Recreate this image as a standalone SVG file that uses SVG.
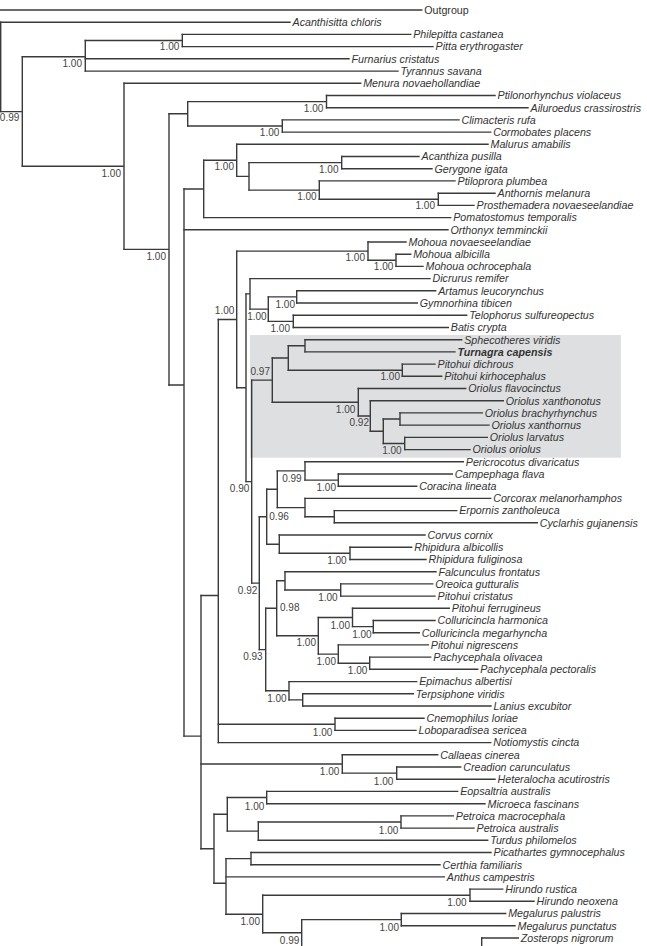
<svg xmlns="http://www.w3.org/2000/svg" width="647" height="946" viewBox="0 0 647 946">
<style>
.br{fill:none;stroke:#3a3a3a;stroke-width:1.4;stroke-linecap:square}
.tip{font-family:"Liberation Sans",Arial,sans-serif;font-size:10.7px;font-style:italic;fill:#333}
.up{font-style:normal}
.bold{font-weight:bold}
.sup{font-family:"Liberation Sans",Arial,sans-serif;font-size:10px;fill:#444;text-anchor:end}
.supl{text-anchor:start}
</style>
<rect id="highlight" x="250" y="335" width="371" height="122.7" fill="#dedfe0"/>
<g id="connectors">
<path class="br" d="M0.7,10 H421.7"/>
<path class="br" d="M0.7,22.2 H290"/>
<path class="br" d="M182.3,34.4 H410.7 M182.3,46.6 H433"/>
<path class="br" d="M85.3,58.8 H349 M85.3,71.1 H398"/>
<path class="br" d="M124,83.3 H360.7"/>
<path class="br" d="M326.5,95.5 H495 M326.5,107.7 H528"/>
<path class="br" d="M282.3,119.9 H459 M282.3,132.1 H490.7"/>
<path class="br" d="M236.7,144.3 H488"/>
<path class="br" d="M341.7,156.5 H419 M341.7,168.7 H432"/>
<path class="br" d="M319.3,180.9 H455"/>
<path class="br" d="M438.3,193.2 H495 M438.3,205.4 H474"/>
<path class="br" d="M203.7,217.6 H450.7"/>
<path class="br" d="M184,229.8 H448"/>
<path class="br" d="M368,242 H406"/>
<path class="br" d="M396,254.2 H410.7 M396,266.4 H423"/>
<path class="br" d="M250,278.6 H430"/>
<path class="br" d="M296.7,290.8 H435.7 M296.7,303 H417.3"/>
<path class="br" d="M293.3,315.3 H466.7 M293.3,327.5 H448.3"/>
<path class="br" d="M305,339.7 H461.7 M305,351.9 H455"/>
<path class="br" d="M402.3,364.1 H435 M402.3,376.3 H441.7"/>
<path class="br" d="M358.3,388.5 H465.7"/>
<path class="br" d="M370.3,400.7 H503.3"/>
<path class="br" d="M400,412.9 H482.3 M400,425.1 H489"/>
<path class="br" d="M404.7,437.4 H487.3 M404.7,449.6 H470"/>
<path class="br" d="M305,461.8 H463.3"/>
<path class="br" d="M338.3,474 H452.3 M338.3,486.2 H416.7"/>
<path class="br" d="M305,498.4 H490.7"/>
<path class="br" d="M334.3,510.6 H456.7 M334.3,522.8 H537.3"/>
<path class="br" d="M279.3,535 H425"/>
<path class="br" d="M350,547.2 H411.7 M350,559.5 H426"/>
<path class="br" d="M285,571.7 H436"/>
<path class="br" d="M340.7,583.9 H432.7 M340.7,596.1 H435"/>
<path class="br" d="M352.5,608.3 H449.3"/>
<path class="br" d="M373.3,620.5 H435 M373.3,632.7 H419.3"/>
<path class="br" d="M338.3,644.9 H428.3"/>
<path class="br" d="M369.7,657.1 H430.7 M369.7,669.3 H477.7"/>
<path class="br" d="M289,681.6 H416.7"/>
<path class="br" d="M302.7,693.8 H413.3 M302.7,706 H491"/>
<path class="br" d="M335,718.2 H424 M335,730.4 H416"/>
<path class="br" d="M218.3,742.6 H490.7"/>
<path class="br" d="M342.3,754.8 H437.7"/>
<path class="br" d="M396.7,767 H460.7 M396.7,779.2 H495"/>
<path class="br" d="M266.7,791.4 H457.7 M266.7,803.7 H485"/>
<path class="br" d="M401,815.9 H453.3 M401,828.1 H474"/>
<path class="br" d="M258.3,840.3 H487.7"/>
<path class="br" d="M251,852.5 H491 M251,864.7 H440"/>
<path class="br" d="M226,876.9 H444.3"/>
<path class="br" d="M470,889.1 H502.7 M470,901.3 H534"/>
<path class="br" d="M401.3,913.5 H505.7 M401.3,925.8 H515"/>
<path class="br" d="M481.7,938 H518.3"/>
<path class="br" d="M0.7,22.2 V111.6"/>
<path class="br" d="M0.7,111.6 H22.3 M22.3,56.8 V166.3"/>
<path class="br" d="M22.3,56.8 H85.3 M85.3,40.5 V71.1"/>
<path class="br" d="M85.3,40.5 H182.3 M182.3,34.4 V46.6"/>
<path class="br" d="M22.3,166.3 H124 M124,83.3 V249.4"/>
<path class="br" d="M124,249.4 H169 M169,113.8 V385"/>
<path class="br" d="M169,113.8 H187.7 M187.7,101.6 V126"/>
<path class="br" d="M187.7,101.6 H326.5 M326.5,95.5 V107.7"/>
<path class="br" d="M187.7,126 H282.3 M282.3,119.9 V132.1"/>
<path class="br" d="M169,385 H184 M184,189 V736.1"/>
<path class="br" d="M184,189 H203.7 M203.7,160.3 V217.6"/>
<path class="br" d="M203.7,160.3 H236.7 M236.7,144.3 V176.4"/>
<path class="br" d="M236.7,176.4 H249 M249,162.6 V190.1"/>
<path class="br" d="M249,162.6 H341.7 M341.7,156.5 V168.7"/>
<path class="br" d="M249,190.1 H319.3 M319.3,180.9 V199.3"/>
<path class="br" d="M319.3,199.3 H438.3 M438.3,193.2 V205.4"/>
<path class="br" d="M184,736.1 H201 M201,595.5 V848.7"/>
<path class="br" d="M201,595.5 H218.3 M218.3,319.5 V742.6"/>
<path class="br" d="M218.3,319.5 H236.7 M236.7,251.1 V387.8"/>
<path class="br" d="M236.7,251.1 H368 M368,242 V260.3"/>
<path class="br" d="M368,260.3 H396 M396,254.2 V266.4"/>
<path class="br" d="M236.7,387.8 H246 M246,293.9 V481.6"/>
<path class="br" d="M246,293.9 H250 M250,278.6 V309.1"/>
<path class="br" d="M250,309.1 H268.3 M268.3,296.9 V321.4"/>
<path class="br" d="M268.3,296.9 H296.7 M296.7,290.8 V303"/>
<path class="br" d="M268.3,321.4 H293.3 M293.3,315.3 V327.5"/>
<path class="br" d="M246,481.6 H251.7 M251.7,380.1 V583.1"/>
<path class="br" d="M251.7,380.1 H272.3 M272.3,358 V402.3"/>
<path class="br" d="M272.3,358 H288.3 M288.3,345.8 V370.2"/>
<path class="br" d="M288.3,345.8 H305 M305,339.7 V351.9"/>
<path class="br" d="M288.3,370.2 H402.3 M402.3,364.1 V376.3"/>
<path class="br" d="M272.3,402.3 H358.3 M358.3,388.5 V416"/>
<path class="br" d="M358.3,416 H370.3 M370.3,400.7 V431.2"/>
<path class="br" d="M370.3,431.2 H383.3 M383.3,419 V443.5"/>
<path class="br" d="M383.3,419 H400 M400,412.9 V425.1"/>
<path class="br" d="M383.3,443.5 H404.7 M404.7,437.4 V449.6"/>
<path class="br" d="M251.7,583.1 H259.3 M259.3,516.7 V649.6"/>
<path class="br" d="M259.3,516.7 H266.7 M266.7,489.3 V544.2"/>
<path class="br" d="M266.7,489.3 H277.3 M277.3,470.9 V507.6"/>
<path class="br" d="M277.3,470.9 H305 M305,461.8 V480.1"/>
<path class="br" d="M305,480.1 H338.3 M338.3,474 V486.2"/>
<path class="br" d="M277.3,507.6 H305 M305,498.4 V516.7"/>
<path class="br" d="M305,516.7 H334.3 M334.3,510.6 V522.8"/>
<path class="br" d="M266.7,544.2 H279.3 M279.3,535 V553.3"/>
<path class="br" d="M279.3,553.3 H350 M350,547.2 V559.5"/>
<path class="br" d="M259.3,649.6 H265.7 M265.7,608.3 V690.7"/>
<path class="br" d="M265.7,608.3 H276.7 M276.7,580.8 V635.8"/>
<path class="br" d="M276.7,580.8 H285 M285,571.7 V590"/>
<path class="br" d="M285,590 H340.7 M340.7,583.9 V596.1"/>
<path class="br" d="M276.7,635.8 H318.3 M318.3,617.5 V654.1"/>
<path class="br" d="M318.3,617.5 H352.5 M352.5,608.3 V626.6"/>
<path class="br" d="M352.5,626.6 H373.3 M373.3,620.5 V632.7"/>
<path class="br" d="M318.3,654.1 H338.3 M338.3,644.9 V663.2"/>
<path class="br" d="M338.3,663.2 H369.7 M369.7,657.1 V669.3"/>
<path class="br" d="M265.7,690.7 H289 M289,681.6 V699.9"/>
<path class="br" d="M289,699.9 H302.7 M302.7,693.8 V706"/>
<path class="br" d="M218.3,724.3 H335 M335,718.2 V730.4"/>
<path class="br" d="M201,764 H342.3 M342.3,754.8 V773.1"/>
<path class="br" d="M342.3,773.1 H396.7 M396.7,767 V779.2"/>
<path class="br" d="M201,848.7 H214 M214,814.3 V883.3"/>
<path class="br" d="M214,814.3 H227.3 M227.3,797.5 V831.1"/>
<path class="br" d="M227.3,797.5 H266.7 M266.7,791.4 V803.7"/>
<path class="br" d="M227.3,831.1 H258.3 M258.3,822 V840.3"/>
<path class="br" d="M258.3,822 H401 M401,815.9 V828.1"/>
<path class="br" d="M214,883.3 H226 M226,858.6 V914.3"/>
<path class="br" d="M226,858.6 H251 M251,852.5 V864.7"/>
<path class="br" d="M226,914.3 H262.7 M262.7,895.2 V932.7"/>
<path class="br" d="M262.7,895.2 H470 M470,889.1 V901.3"/>
<path class="br" d="M262.7,932.7 H301.7 M301.7,919.6 V952"/>
<path class="br" d="M301.7,919.6 H401.3 M401.3,913.5 V925.8"/>
<path class="br" d="M481.7,938 V952"/>
</g>
<g id="tip-01"><text class="tip up" x="424.2" y="13.8">Outgroup</text></g>
<g id="tip-02"><text class="tip" x="292.5" y="26">Acanthisitta chloris</text></g>
<g id="tip-03"><text class="tip" x="413.2" y="38.2">Philepitta castanea</text></g>
<g id="tip-04"><text class="tip" x="435.5" y="50.4">Pitta erythrogaster</text></g>
<g id="tip-05"><text class="tip" x="351.5" y="62.6">Furnarius cristatus</text></g>
<g id="tip-06"><text class="tip" x="400.5" y="74.9">Tyrannus savana</text></g>
<g id="tip-07"><text class="tip" x="363.2" y="87.1">Menura novaehollandiae</text></g>
<g id="tip-08"><text class="tip" x="497.5" y="99.3">Ptilonorhynchus violaceus</text></g>
<g id="tip-09"><text class="tip" x="530.5" y="111.5">Ailuroedus crassirostris</text></g>
<g id="tip-10"><text class="tip" x="461.5" y="123.7">Climacteris rufa</text></g>
<g id="tip-11"><text class="tip" x="493.2" y="135.9">Cormobates placens</text></g>
<g id="tip-12"><text class="tip" x="490.5" y="148.1">Malurus amabilis</text></g>
<g id="tip-13"><text class="tip" x="421.5" y="160.3">Acanthiza pusilla</text></g>
<g id="tip-14"><text class="tip" x="434.5" y="172.5">Gerygone igata</text></g>
<g id="tip-15"><text class="tip" x="457.5" y="184.7">Ptiloprora plumbea</text></g>
<g id="tip-16"><text class="tip" x="497.5" y="197">Anthornis melanura</text></g>
<g id="tip-17"><text class="tip" x="476.5" y="209.2">Prosthemadera novaeseelandiae</text></g>
<g id="tip-18"><text class="tip" x="453.2" y="221.4">Pomatostomus temporalis</text></g>
<g id="tip-19"><text class="tip" x="450.5" y="233.6">Orthonyx temminckii</text></g>
<g id="tip-20"><text class="tip" x="408.5" y="245.8">Mohoua novaeseelandiae</text></g>
<g id="tip-21"><text class="tip" x="413.2" y="258">Mohoua albicilla</text></g>
<g id="tip-22"><text class="tip" x="425.5" y="270.2">Mohoua ochrocephala</text></g>
<g id="tip-23"><text class="tip" x="432.5" y="282.4">Dicrurus remifer</text></g>
<g id="tip-24"><text class="tip" x="438.2" y="294.6">Artamus leucorynchus</text></g>
<g id="tip-25"><text class="tip" x="419.8" y="306.8">Gymnorhina tibicen</text></g>
<g id="tip-26"><text class="tip" x="469.2" y="319.1">Telophorus sulfureopectus</text></g>
<g id="tip-27"><text class="tip" x="450.8" y="331.3">Batis crypta</text></g>
<g id="tip-28"><text class="tip" x="464.2" y="343.5">Sphecotheres viridis</text></g>
<g id="tip-29"><text class="tip bold" x="457.5" y="355.7">Turnagra capensis</text></g>
<g id="tip-30"><text class="tip" x="437.5" y="367.9">Pitohui dichrous</text></g>
<g id="tip-31"><text class="tip" x="444.2" y="380.1">Pitohui kirhocephalus</text></g>
<g id="tip-32"><text class="tip" x="468.2" y="392.3">Oriolus flavocinctus</text></g>
<g id="tip-33"><text class="tip" x="505.8" y="404.5">Oriolus xanthonotus</text></g>
<g id="tip-34"><text class="tip" x="484.8" y="416.7">Oriolus brachyrhynchus</text></g>
<g id="tip-35"><text class="tip" x="491.5" y="428.9">Oriolus xanthornus</text></g>
<g id="tip-36"><text class="tip" x="489.8" y="441.2">Oriolus larvatus</text></g>
<g id="tip-37"><text class="tip" x="472.5" y="453.4">Oriolus oriolus</text></g>
<g id="tip-38"><text class="tip" x="465.8" y="465.6">Pericrocotus divaricatus</text></g>
<g id="tip-39"><text class="tip" x="454.8" y="477.8">Campephaga flava</text></g>
<g id="tip-40"><text class="tip" x="419.2" y="490">Coracina lineata</text></g>
<g id="tip-41"><text class="tip" x="493.2" y="502.2">Corcorax melanorhamphos</text></g>
<g id="tip-42"><text class="tip" x="459.2" y="514.4">Erpornis zantholeuca</text></g>
<g id="tip-43"><text class="tip" x="539.8" y="526.6">Cyclarhis gujanensis</text></g>
<g id="tip-44"><text class="tip" x="427.5" y="538.8">Corvus cornix</text></g>
<g id="tip-45"><text class="tip" x="414.2" y="551">Rhipidura albicollis</text></g>
<g id="tip-46"><text class="tip" x="428.5" y="563.3">Rhipidura fuliginosa</text></g>
<g id="tip-47"><text class="tip" x="438.5" y="575.5">Falcunculus frontatus</text></g>
<g id="tip-48"><text class="tip" x="435.2" y="587.7">Oreoica gutturalis</text></g>
<g id="tip-49"><text class="tip" x="437.5" y="599.9">Pitohui cristatus</text></g>
<g id="tip-50"><text class="tip" x="451.8" y="612.1">Pitohui ferrugineus</text></g>
<g id="tip-51"><text class="tip" x="437.5" y="624.3">Colluricincla harmonica</text></g>
<g id="tip-52"><text class="tip" x="421.8" y="636.5">Colluricincla megarhyncha</text></g>
<g id="tip-53"><text class="tip" x="430.8" y="648.7">Pitohui nigrescens</text></g>
<g id="tip-54"><text class="tip" x="433.2" y="660.9">Pachycephala olivacea</text></g>
<g id="tip-55"><text class="tip" x="480.2" y="673.1">Pachycephala pectoralis</text></g>
<g id="tip-56"><text class="tip" x="419.2" y="685.4">Epimachus albertisi</text></g>
<g id="tip-57"><text class="tip" x="415.8" y="697.6">Terpsiphone viridis</text></g>
<g id="tip-58"><text class="tip" x="493.5" y="709.8">Lanius excubitor</text></g>
<g id="tip-59"><text class="tip" x="426.5" y="722">Cnemophilus loriae</text></g>
<g id="tip-60"><text class="tip" x="418.5" y="734.2">Loboparadisea sericea</text></g>
<g id="tip-61"><text class="tip" x="493.2" y="746.4">Notiomystis cincta</text></g>
<g id="tip-62"><text class="tip" x="440.2" y="758.6">Callaeas cinerea</text></g>
<g id="tip-63"><text class="tip" x="463.2" y="770.8">Creadion carunculatus</text></g>
<g id="tip-64"><text class="tip" x="497.5" y="783">Heteralocha acutirostris</text></g>
<g id="tip-65"><text class="tip" x="460.2" y="795.2">Eopsaltria australis</text></g>
<g id="tip-66"><text class="tip" x="487.5" y="807.5">Microeca fascinans</text></g>
<g id="tip-67"><text class="tip" x="455.8" y="819.7">Petroica macrocephala</text></g>
<g id="tip-68"><text class="tip" x="476.5" y="831.9">Petroica australis</text></g>
<g id="tip-69"><text class="tip" x="490.2" y="844.1">Turdus philomelos</text></g>
<g id="tip-70"><text class="tip" x="493.5" y="856.3">Picathartes gymnocephalus</text></g>
<g id="tip-71"><text class="tip" x="442.5" y="868.5">Certhia familiaris</text></g>
<g id="tip-72"><text class="tip" x="446.8" y="880.7">Anthus campestris</text></g>
<g id="tip-73"><text class="tip" x="505.2" y="892.9">Hirundo rustica</text></g>
<g id="tip-74"><text class="tip" x="536.5" y="905.1">Hirundo neoxena</text></g>
<g id="tip-75"><text class="tip" x="508.2" y="917.3">Megalurus palustris</text></g>
<g id="tip-76"><text class="tip" x="517.5" y="929.6">Megalurus punctatus</text></g>
<g id="tip-77"><text class="tip" x="520.8" y="941.8">Zosterops nigrorum</text></g>
<g id="node-n22"><text class="sup" x="19.3" y="121.3">0.99</text></g>
<g id="node-n182"><text class="sup" x="179.3" y="50.3">1.00</text></g>
<g id="node-nsub"><text class="sup" x="82" y="66.9">1.00</text></g>
<g id="node-nosc"><text class="sup" x="121" y="176.9">1.00</text></g>
<g id="node-n326"><text class="sup" x="323.3" y="111.9">1.00</text></g>
<g id="node-n282"><text class="sup" x="279.3" y="136.3">1.00</text></g>
<g id="node-n237a"><text class="sup" x="234" y="170.3">1.00</text></g>
<g id="node-n342a"><text class="sup" x="338.5" y="172.6">1.00</text></g>
<g id="node-n319"><text class="sup" x="316.7" y="200.3">1.00</text></g>
<g id="node-n438"><text class="sup" x="435" y="209.3">1.00</text></g>
<g id="node-n169"><text class="sup" x="166" y="259.6">1.00</text></g>
<g id="node-n237b"><text class="sup" x="234.3" y="314.3">1.00</text></g>
<g id="node-n368"><text class="sup" x="365" y="260.9">1.00</text></g>
<g id="node-n396"><text class="sup" x="393.3" y="270.3">1.00</text></g>
<g id="node-n297"><text class="sup" x="295" y="307.6">1.00</text></g>
<g id="node-n268"><text class="sup" x="266.7" y="320.3">1.00</text></g>
<g id="node-n293"><text class="sup" x="290" y="331.9">1.00</text></g>
<g id="node-n273"><text class="sup" x="270" y="375.3">0.97</text></g>
<g id="node-n402"><text class="sup" x="400" y="380.3">1.00</text></g>
<g id="node-n358"><text class="sup" x="355.3" y="412.9">1.00</text></g>
<g id="node-n370"><text class="sup" x="369" y="426.3">0.92</text></g>
<g id="node-n405"><text class="sup" x="401.7" y="453.6">1.00</text></g>
<g id="node-n252"><text class="sup" x="249.3" y="491.9">0.90</text></g>
<g id="node-n305b"><text class="sup" x="301.7" y="481.9">0.99</text></g>
<g id="node-n338a"><text class="sup" x="336" y="490.9">1.00</text></g>
<g id="node-n267"><text class="sup supl" x="269.3" y="519.6">0.96</text></g>
<g id="node-n350"><text class="sup" x="346.7" y="564.3">1.00</text></g>
<g id="node-n259"><text class="sup" x="257.3" y="593.6">0.92</text></g>
<g id="node-n277b"><text class="sup supl" x="280" y="611.3">0.98</text></g>
<g id="node-n341"><text class="sup" x="337.7" y="600.9">1.00</text></g>
<g id="node-n353"><text class="sup" x="350" y="628.6">1.00</text></g>
<g id="node-n373"><text class="sup" x="371.7" y="637.6">1.00</text></g>
<g id="node-n318"><text class="sup" x="316" y="646.3">1.00</text></g>
<g id="node-n266"><text class="sup" x="262.7" y="660.3">0.93</text></g>
<g id="node-n338b"><text class="sup" x="336" y="665.3">1.00</text></g>
<g id="node-n370b"><text class="sup" x="367.3" y="674.3">1.00</text></g>
<g id="node-n289"><text class="sup" x="286.7" y="701.9">1.00</text></g>
<g id="node-n335"><text class="sup" x="332.3" y="735.9">1.00</text></g>
<g id="node-n342"><text class="sup" x="339.3" y="775.3">1.00</text></g>
<g id="node-n397"><text class="sup" x="393.3" y="784.6">1.00</text></g>
<g id="node-n267b"><text class="sup" x="264.3" y="809.6">1.00</text></g>
<g id="node-n401"><text class="sup" x="398.3" y="833.6">1.00</text></g>
<g id="node-n470"><text class="sup" x="466.7" y="906.3">1.00</text></g>
<g id="node-n401b"><text class="sup" x="399" y="931.3">1.00</text></g>
<g id="node-n263"><text class="sup" x="260" y="924.6">1.00</text></g>
<g id="node-n302"><text class="sup" x="299.3" y="943.6">0.99</text></g>
</svg>
